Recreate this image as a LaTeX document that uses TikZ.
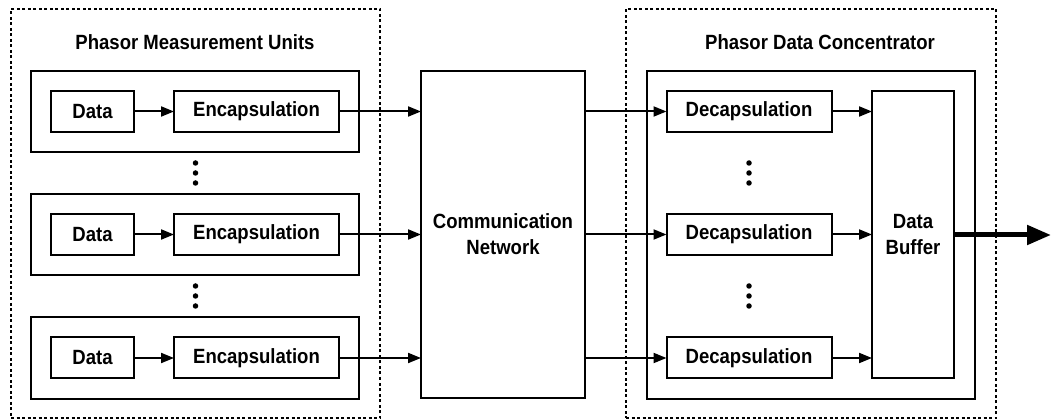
\documentclass[tikz,border=0pt]{standalone}
\usepackage{fontspec}
\setmainfont{Liberation Sans}[FakeStretch=0.9]
\usetikzlibrary{arrows.meta}
\begin{document}
\begin{tikzpicture}[x=1pt,y=-1pt,
  every node/.style={inner sep=0pt,outer sep=0pt,font=\fontsize{20.6}{26}\selectfont\bfseries},
  grp/.style={draw,dash pattern=on 3pt off 2.5pt,line width=1.4pt},
  blk/.style={draw,line width=2pt,align=center},
  arr/.style={line width=2pt,-{Triangle[length=13pt,width=10pt]}},
  bigarr/.style={line width=5pt,-{Triangle[length=24pt,width=19pt]}},
  dot/.style={fill,circle,minimum size=5.5pt}]
\useasboundingbox (0,0) rectangle (1052,419);
% groups
\node[grp,minimum width=369pt,minimum height=409pt] (pmu) at (195.5,213.5) {};
\node[grp,minimum width=370pt,minimum height=409pt] (pdc) at (811,213.5) {};
\node (tpmu) at (195,42) {Phasor Measurement Units};
\node (tpdc) at (820,42) {Phasor Data Concentrator};
% PMU units
\foreach \i/\y in {1/111.5,2/234.5,3/358}{
  \node[blk,minimum width=328pt,minimum height=81pt] (u\i) at (195,\y) {};
  \node[blk,minimum width=83pt,minimum height=41pt] (d\i) at (92.5,\y) {Data};
  \node[blk,minimum width=165pt,minimum height=41pt] (e\i) at (256.5,\y) {Encapsulation};
}
% network
\node[blk,minimum width=164pt,minimum height=327pt] (net) at (503,234.5) {Communication\\Network};
% PDC
\node[blk,minimum width=328pt,minimum height=328pt] (pin) at (811,235) {};
\node[blk,minimum width=82pt,minimum height=287pt] (buf) at (913,234.5) {Data\\Buffer};
\foreach \i/\y in {1/111.5,2/234.5,3/358}{
  \node[blk,minimum width=165pt,minimum height=41pt] (c\i) at (749,\y) {Decapsulation};
}
% dots
\foreach \x/\n in {195.5/a,749/b}{
  \node[dot] (\n1) at (\x,163) {};
  \node[dot] (\n2) at (\x,173) {};
  \node[dot] (\n3) at (\x,183) {};
  \node[dot] (\n4) at (\x,286) {};
  \node[dot] (\n5) at (\x,296) {};
  \node[dot] (\n6) at (\x,306) {};
}
\coordinate (out) at (1051,235);
% connectors
\foreach \i in {1,2,3}{
  \draw[arr] (d\i.east) -- (e\i.west);
  \draw[arr] (e\i.east) -- (net.west |- e\i.east);
  \draw[arr] (net.east |- c\i.west) -- (c\i.west);
  \draw[arr] (c\i.east) -- (buf.west |- c\i.east);
}
\draw[bigarr] (buf.east |- out) -- (out);
\end{tikzpicture}
\end{document}
